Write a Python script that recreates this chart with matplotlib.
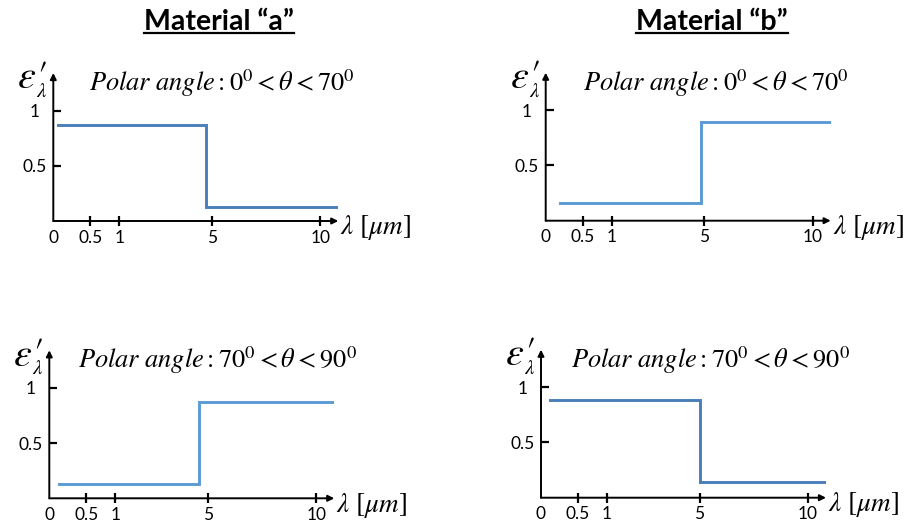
"""Schematic spectral directional emissivity of two materials."""

import matplotlib

matplotlib.use("Agg")
import matplotlib.pyplot as plt
import numpy as np

W, H = 906, 522

plt.rcParams["mathtext.fontset"] = "stix"
plt.rcParams["font.family"] = ["Lato", "DejaVu Sans"]

# wavelength axis is schematic: tick values and their spacing along the axis
x_tick_values = [0.5, 1, 5, 10]
x_tick_labels = ["0.5", "1", "5", "10"]
y_tick_values = [0.5, 1]
y_tick_labels = ["0.5", "1"]
scale_values = [-10, 0, 0.5, 1, 5, 10, 30]
scale_positions = [-740, 0, 37, 66, 158.5, 267, 701]

material_titles = ["Material \u201ca\u201d", "Material \u201cb\u201d"]
angle_labels = [
    r"$Polar\ angle: 0^0 < \theta < 70^0$",
    r"$Polar\ angle: 70^0 < \theta < 90^0$",
]

# step curves: wavelength at start / jump / end, emissivity before and after the jump
a_near_wl = [0.07, 4.75, 11.55]
a_near_eps = [0.87, 0.13, 0.13]
b_near_wl = [0.19, 4.88, 11.35]
b_near_eps = [0.157, 0.89, 0.89]
a_grazing_wl = [0.125, 4.64, 11.13]
a_grazing_eps = [0.13, 0.87, 0.87]
b_grazing_wl = [0.12, 5.0, 11.7]
b_grazing_eps = [0.88, 0.144, 0.144]

DARK = "#4a7ebb"
LIGHT = "#5b9bd5"


def _fwd(x):
    return np.interp(x, scale_values, scale_positions)


def _inv(p):
    return np.interp(p, scale_positions, scale_values)


def _label(ax, text, dx, dy, size, ha="left", va="baseline"):
    ax.annotate(text, xy=(0, 0), xycoords="axes fraction", xytext=(dx, dy),
                textcoords="offset pixels", ha=ha, va=va, fontsize=size)


def _panel(fig, origin, wl, eps, color, angle_label, text_dx):
    """Draw one schematic panel with its origin at pixel (x, y from top)."""
    x0, y0 = origin
    width, height = 285, 148
    ax = fig.add_axes([x0 / W, 1 - y0 / H, width / W, height / H])
    ax.set_xscale("function", functions=(_fwd, _inv))
    ax.set_xlim(0, _inv(width))
    ax.set_ylim(0, height / 110.5)
    for spine in ax.spines.values():
        spine.set_visible(False)
    ax.patch.set_alpha(0)

    ax.plot(wl, eps, drawstyle="steps-post", color=color, lw=2.1, solid_joinstyle="miter")

    arrow = dict(arrowstyle="-|>", lw=1.4, color="black", mutation_scale=9, shrinkA=0, shrinkB=0)
    ax.annotate("", xy=(1, 0), xytext=(0, 0), xycoords="axes fraction", arrowprops=arrow)
    ax.annotate("", xy=(0, 1), xytext=(0, 0), xycoords="axes fraction", arrowprops=arrow)

    ax.set_xticks(x_tick_values, x_tick_labels)
    ax.set_xticks([0], ["0"], minor=True)
    ax.tick_params(axis="x", which="major", direction="inout", length=7.5, width=1.6, pad=2.4,
                   labelsize=12.5)
    ax.tick_params(axis="x", which="minor", direction="inout", length=0, pad=6.2, labelsize=12.5)
    ax.set_yticks(y_tick_values, y_tick_labels)
    ax.tick_params(axis="y", direction="in", length=6, width=1.6, pad=13.5, labelsize=12.5)
    for label in ax.get_yticklabels():
        label.set_horizontalalignment("center")

    ax.annotate(r"$\lambda\ [\mu m]$", xy=(1, 0), xycoords="axes fraction",
                xytext=(2, -7), textcoords="offset pixels", ha="left", va="center", fontsize=19.5)
    # emissivity symbol built from three pieces: epsilon, prime, subscript lambda
    _label(ax, r"$\varepsilon$", -17, 144, 29, ha="right", va="center")
    _label(ax, r"$\prime$", -16, 131, 26, ha="left", va="bottom")
    _label(ax, r"$\lambda$", -17, 140, 15, ha="left", va="top")
    _label(ax, angle_label, text_dx, 130, 19)
    return ax


fig = plt.figure(figsize=(W / 100, H / 100), dpi=100)

_panel(fig, (53.3, 221), a_near_wl, a_near_eps, DARK, angle_labels[0], 36)
_panel(fig, (545.7, 220.7), b_near_wl, b_near_eps, LIGHT, angle_labels[0], 37)
_panel(fig, (49.3, 498.3), a_grazing_wl, a_grazing_eps, LIGHT, angle_labels[1], 29)
_panel(fig, (541, 497.7), b_grazing_wl, b_grazing_eps, DARK, angle_labels[1], 30)

titles = []
for title, cx in zip(material_titles, [219, 712]):
    titles.append(fig.text(cx / W, 1 - 30 / H, title, ha="center", va="baseline",
                           fontsize=20.5, fontweight="bold"))

# underline the material titles
fig.canvas.draw()
renderer = fig.canvas.get_renderer()
for text in titles:
    box = text.get_window_extent(renderer)
    y_line = 1 - 33 / H
    fig.add_artist(plt.Line2D([box.x0 / W, box.x1 / W], [y_line, y_line], color="black", lw=1.6))

fig.savefig("out.png", dpi=100)
